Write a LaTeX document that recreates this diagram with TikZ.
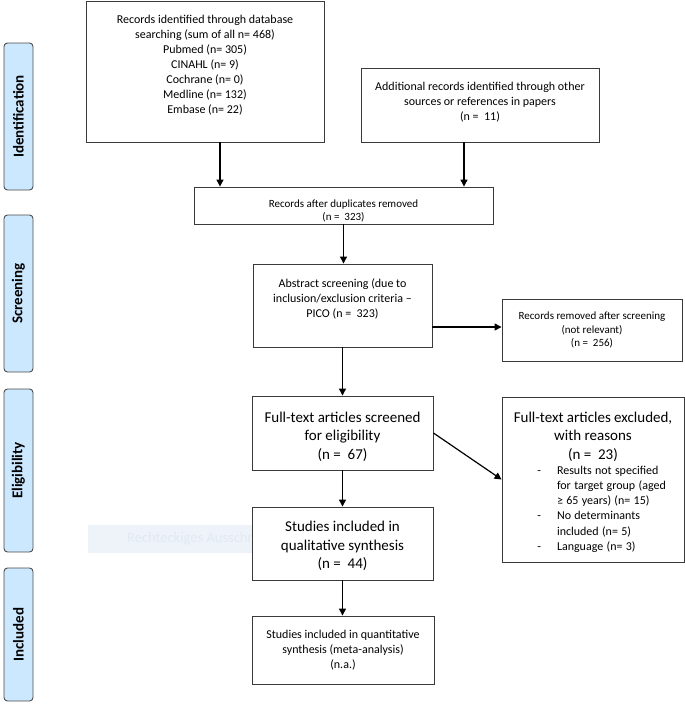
\documentclass[tikz,border=0pt]{standalone}
\usepackage{fontspec}
\setmainfont{Carlito}
\usetikzlibrary{arrows.meta,calc}
\definecolor{boxline}{HTML}{3A3A3A}
\definecolor{sideline}{HTML}{4A4A4A}
\definecolor{sidefill}{HTML}{CCE8FE}
\definecolor{wmfill}{HTML}{EEF3FA}
\definecolor{wmtext}{HTML}{E2E9F2}
\begin{document}
\begin{tikzpicture}[x=1pt,y=-1pt,
  box/.style={draw=boxline, line width=0.9pt, fill=white, align=center, inner sep=2pt},
  boxtext/.style={align=center, inner sep=0pt},
  side/.style={draw=sideline, line width=0.9pt, fill=sidefill, rounded corners=3.5pt,
    rotate=90, minimum height=29pt, inner sep=0pt,
    font=\fontsize{15}{18}\selectfont\bfseries},
  arr/.style={line width=1.2pt, -{Triangle[length=7pt,width=7pt]}},
  fA/.style={font=\fontsize{12}{15}\selectfont},
  fB/.style={font=\fontsize{11}{13.5}\selectfont},
  fD/.style={font=\fontsize{11}{12.5}\selectfont},
  fC/.style={font=\fontsize{15}{18.5}\selectfont},
]
\useasboundingbox (0,0) rectangle (685,704);

% side labels
\node[side, minimum width=147pt] (idl) at (18.5,116.5) {Identification};
\node[side, minimum width=157pt] (scl) at (18.5,293.5) {Screening};
\node[side, minimum width=163pt] (ell) at (18.5,470.5) {Eligibility};
\node[side, minimum width=133pt] (inl) at (18.5,634.5) {Included};

% faint screenshot-tool overlay (lies under the boxes)
\fill[wmfill] (88,525) rectangle (252,553);
\node[anchor=west, inner sep=0pt, text=wmtext, font=\fontsize{14.5}{17}\selectfont] (wm) at (127,539) {Rechteckiges Ausschn};

% boxes
\node[box, fA, minimum width=238pt, minimum height=141pt] (db) at (205,71.5)
  {Records identified through database\\searching (sum of all n= 468)\\Pubmed (n= 305)\\CINAHL (n= 9)\\Cochrane (n= 0)\\Medline (n= 132)\\Embase (n= 22)\\\mbox{}};

\node[box, minimum width=238pt, minimum height=74pt] (add) at (480,105) {};
\node[boxtext, fA] (addtext) at (480,102)
  {Additional records identified through other\\sources or references in papers\\(n =\ \ 11)};

\node[box, minimum width=299pt, minimum height=37pt] (dup) at (343.5,205.5) {};
\node[boxtext, fD] (duptext) at (343.5,211)
  {Records after duplicates removed\\(n =\ \ 323)};

\node[box, fA, minimum width=179pt, minimum height=83pt] (abs) at (342.5,305.5)
  {Abstract screening (due to\\inclusion/exclusion criteria –\\PICO (n =\ \ 323)\\\mbox{}};

\node[box, fB, minimum width=180pt, minimum height=62pt] (rem) at (592,330)
  {Records removed after screening\\(not relevant)\\(n =\ \ 256)};

\node[box, minimum width=181pt, minimum height=74pt] (ft) at (342.5,433) {};
\node[boxtext, fC] (fttext) at (342.5,436.5)
  {Full-text articles screened\\for eligibility\\(n =\ \ 67)};

\node[box, minimum width=182pt, minimum height=165pt] (exc) at (593,479.5) {};
\node[inner sep=0pt, text width=176pt, align=left] (exctext) at (593,482)
  {{\centering\fontsize{15}{18.5}\selectfont Full-text articles excluded,\\with reasons\\(n =\ \ 23)\par}%
   {\fontsize{12}{15.2}\selectfont\leftskip=52pt\parindent=0pt
   \noindent\llap{-\hspace{16pt}}Results not specified\\for target group (aged\\≥ 65 years) (n= 15)\par
   \noindent\llap{-\hspace{16pt}}No determinants\\included (n= 5)\par
   \noindent\llap{-\hspace{16pt}}Language (n= 3)\par}};

\node[box, minimum width=181pt, minimum height=73pt] (qual) at (342.5,543.5) {};
\node[boxtext, fC] (qualtext) at (342.5,546)
  {Studies included in\\qualitative synthesis\\(n =\ \ 44)};

\node[box, fA, minimum width=182pt, minimum height=68pt] (quan) at (343,650)
  {Studies included in quantitative\\synthesis (meta-analysis)\\(n.a.)};

% connectors
\draw[arr] ([xshift=15pt]db.south) -- ([xshift=15pt]db.south |- dup.north);
\draw[arr] ([xshift=-16pt]add.south) -- ([xshift=-16pt]add.south |- dup.north);
\draw[arr] (dup.south) -- (dup.south |- abs.north);
\draw[arr] ([yshift=-21.5pt]abs.east) -- ([yshift=-21.5pt]abs.east -| rem.west);
\draw[arr] (abs.south) -- (abs.south |- ft.north);
\draw[arr] (ft.east) -- (exc.west);
\draw[arr] (ft.south) -- (ft.south |- qual.north);
\draw[arr] (qual.south) -- (qual.south |- quan.north);
\end{tikzpicture}
\end{document}
